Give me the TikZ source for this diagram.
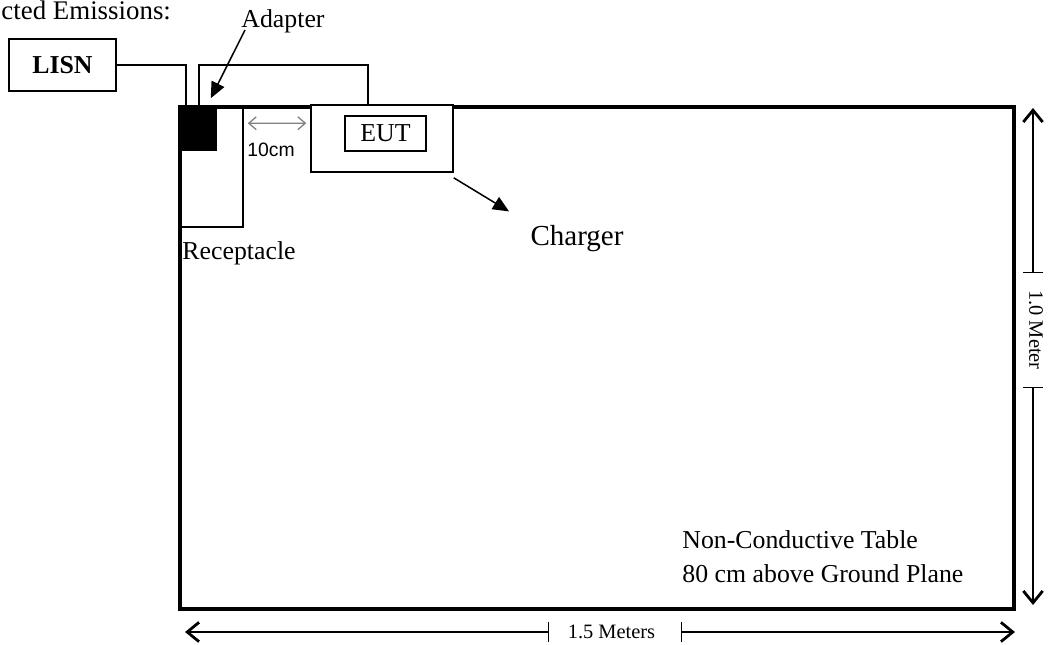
\documentclass[tikz,border=0pt]{standalone}
\usepackage{fontspec}
\setmainfont{Liberation Serif}
\newfontfamily\arialfont{Liberation Sans}
\usetikzlibrary{arrows.meta,calc,positioning}

\begin{document}
\begin{tikzpicture}[x=0.465pt,y=-0.465pt,
  lbl/.style={inner sep=0pt,font=\fontsize{12}{15}\selectfont},
  boxy/.style={draw,line width=0.7pt,inner sep=0pt},
  wire/.style={line width=0.7pt},
  ptr/.style={line width=0.7pt,-{Triangle[length=7.5pt,width=6.5pt]}},
  dimline/.style={line width=0.6pt,{Straight Barb[length=5.5pt,width=9pt,line width=1.3pt]}-{Bar[width=9.5pt,line width=0.6pt]}},
  dimtext/.style={inner sep=0pt,font=\fontsize{9.5}{11}\selectfont}]
 \useasboundingbox (0,0) rectangle (1049,644);
 % title, as far as the page shows it
 \node[lbl,anchor=base west,font=\fontsize{12.5}{15}\selectfont] (title) at (1,19) {cted Emissions:};
 % table
 \node[draw,line width=1.5pt,inner sep=0pt,minimum width=387.8pt,minimum height=233.4pt] (table) at (597,358) {};
 \node[lbl,anchor=base west] (note1) at (682,548) {Non-Conductive Table};
 \node[lbl,anchor=base west] (note2) at ($(note1.base west)+(0,34)$) {80 cm above Ground Plane};
 % receptacle and adapter
 \node[boxy,minimum width=29.8pt,minimum height=55.8pt] (recept) at (211,167) {};
 \node[boxy,fill=black,minimum width=17.2pt,minimum height=20pt] (adapter) at (197.5,128.5) {};
 \node[lbl,anchor=base west] (receptlbl) at (182,259) {Receptacle};
 % charger with EUT
 \node[boxy,fill=white,minimum width=66pt,minimum height=31.2pt] (charger) at (382,138.5) {};
 \node[boxy,lbl,draw,minimum width=37.7pt,minimum height=16.3pt] (eut) at (385.5,133.5) {EUT};
 % LISN
 \node[boxy,font=\bfseries\fontsize{12}{14}\selectfont,minimum width=49.8pt,minimum height=24.2pt] (lisn) at (62.5,65) {LISN};
 % cords
 \coordinate (plugA) at (186,107);
 \coordinate (plugB) at (199,107);
 \coordinate (chgin) at (368,105);
 \draw[wire] (lisn.east) -| (plugA);
 \draw[wire] (plugB) -- ++(0,-42) -| (chgin);
 % pointers
 \node[lbl,anchor=base] (adlbl) at (283,27) {Adapter};
 \draw[ptr] ($(adlbl.base west)+(4,3)$) -- ($(adapter.north east)+(-6,-8)$);
 \node[lbl,font=\fontsize{13.5}{16}\selectfont,anchor=base] (chglbl) at (577,245) {Charger};
 \draw[ptr] ($(charger.south east)+(0,5)$) -- ($(chglbl.north west)+(-21,-13)$);
 % 10 cm gap
 \draw[gray,line width=0.6pt,{Straight Barb[length=3.5pt,width=6pt]}-{Straight Barb[length=3.5pt,width=6pt]}]
   ($(recept.north east)+(4,17)$) -- ($(charger.north west)+(-4,19)$);
 \node[inner sep=0pt,font=\arialfont\fontsize{9}{10}\selectfont] (gap) at (271,150) {10cm};
 % table size
 \coordinate (wl) at (185,632);
 \coordinate (wr) at (1015,632);
 \node[dimtext] (wlbl) at (611.5,632) {1.5 Meters};
 \draw[dimline] (wl) -- ($(wlbl.west)+(-18,0)$);
 \draw[dimline] (wr) -- ($(wlbl.east)+(25,0)$);
 \coordinate (ht) at (1033,108);
 \coordinate (hb) at (1033,605);
 \node[dimtext,rotate=-90] (hlbl) at (1036,330) {1.0 Meter};
 \draw[dimline] (ht) -- ($(hlbl.west)+(-3,-17)$);
 \draw[dimline] (hb) -- ($(hlbl.east)+(-3,17)$);
\end{tikzpicture}
\end{document}
